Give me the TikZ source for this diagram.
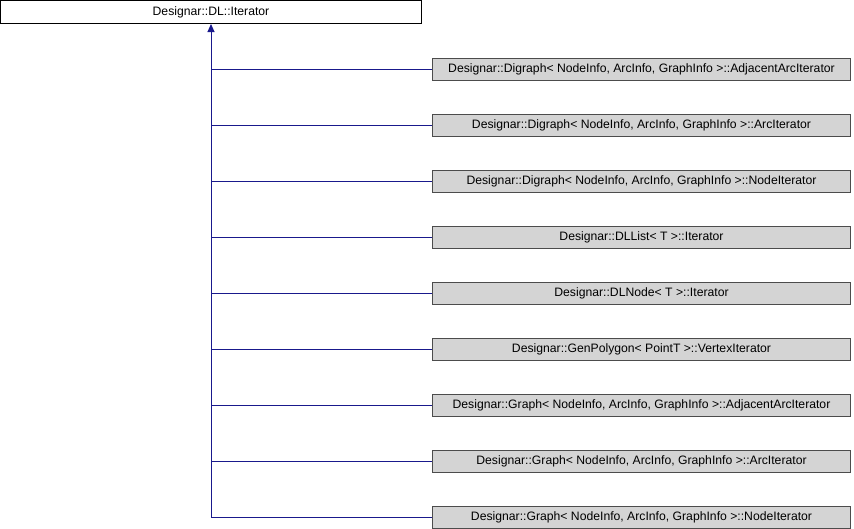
\documentclass[tikz,border=0pt]{standalone}
\usepackage{fontspec}
\setmainfont{Liberation Sans}
\usepackage{tikz}
\usetikzlibrary{arrows.meta}
\definecolor{edgeblue}{RGB}{25,25,140}

\begin{document}
\begin{tikzpicture}[x=1pt,y=-1pt,
  base/.style={draw,line width=1pt,fill=white,minimum width=421pt,minimum height=23pt,inner sep=0pt,font=\fontsize{12.2}{14}\selectfont},
  derived/.style={draw=black!70,line width=1pt,fill=black!17,minimum width=418pt,minimum height=22pt,inner sep=0pt,font=\fontsize{12.2}{14}\selectfont},
  link/.style={draw=edgeblue,line width=1pt}]
  \useasboundingbox (0,0) rectangle (854,528);
  \node[base] (it) at (211,12) {Designar::DL::Iterator};
  \coordinate (trunk) at (211,517);
  \draw[link,-{Triangle[length=8pt,width=7pt]}] (trunk) -- (it.south);
  \foreach \name/\txt [count=\i] in {
    dgadj/{Designar::Digraph< NodeInfo, ArcInfo, GraphInfo >::AdjacentArcIterator},
    dgarc/{Designar::Digraph< NodeInfo, ArcInfo, GraphInfo >::ArcIterator},
    dgnode/{Designar::Digraph< NodeInfo, ArcInfo, GraphInfo >::NodeIterator},
    dllist/{Designar::DLList< T >::Iterator},
    dlnode/{Designar::DLNode< T >::Iterator},
    poly/{Designar::GenPolygon< PointT >::VertexIterator},
    gradj/{Designar::Graph< NodeInfo, ArcInfo, GraphInfo >::AdjacentArcIterator},
    grarc/{Designar::Graph< NodeInfo, ArcInfo, GraphInfo >::ArcIterator},
    grnode/{Designar::Graph< NodeInfo, ArcInfo, GraphInfo >::NodeIterator}}
  {
    \node[derived,anchor=west] (\name) at (432,13+56*\i) {\txt};
    \coordinate (j\i) at (211,13+56*\i);
    \draw[link] (j\i) -- (\name.west);
  }
\end{tikzpicture}
\end{document}
